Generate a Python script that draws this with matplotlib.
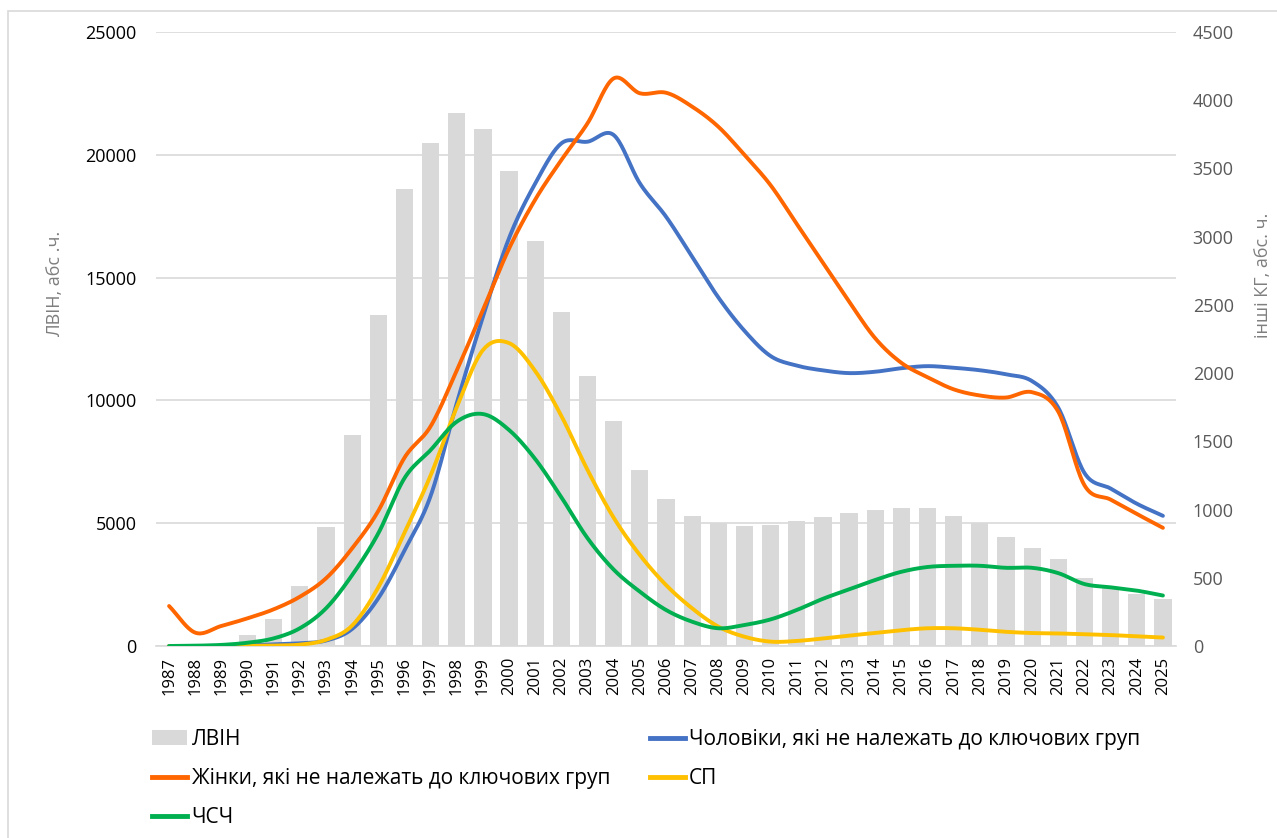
import numpy as np
import matplotlib

matplotlib.use("Agg")
import matplotlib.pyplot as plt
from matplotlib.lines import Line2D
from matplotlib.patches import Patch, Rectangle

plt.rcParams["font.family"] = ["Open Sans", "DejaVu Sans"]

years = list(range(1987, 2026))

# ЛВІН (left axis)
lvin = [0, 0, 60, 440, 1110, 2440, 4830, 8590, 13470, 18620,
        20480, 21700, 21050, 19340, 16480, 13610, 11010, 9170, 7160, 5990,
        5310, 5000, 4880, 4920, 5100, 5250, 5410, 5530, 5620, 5620,
        5310, 5000, 4450, 4000, 3540, 2770, 2380, 2100, 1920]

# other key groups (right axis)
men = [0, 0, 2, 5, 12, 20, 40, 125, 350, 700,
       1100, 1780, 2413, 2990, 3390, 3684, 3696, 3745, 3391, 3147,
       2853, 2555, 2310, 2125, 2055, 2020, 2000, 2010, 2036, 2051,
       2039, 2021, 1991, 1941, 1746, 1268, 1154, 1043, 954]
women = [293, 98, 147, 203, 269, 361, 496, 716, 990, 1380,
         1610, 2020, 2462, 2913, 3272, 3562, 3831, 4160, 4051, 4055,
         3953, 3806, 3599, 3377, 3093, 2808, 2524, 2255, 2075, 1970,
         1881, 1836, 1821, 1860, 1717, 1178, 1073, 968, 866]
sp = [0, 0, 0, 1, 3, 10, 45, 150, 430, 830,
      1250, 1750, 2169, 2220, 2015, 1686, 1290, 940, 667, 447,
      276, 142, 68, 32, 37, 55, 76, 96, 116, 130,
      130, 119, 104, 95, 92, 86, 80, 71, 62]
msm = [0, 2, 8, 24, 56, 130, 276, 520, 826, 1230,
       1436, 1644, 1700, 1583, 1370, 1090, 790, 560, 398, 264,
       178, 130, 154, 195, 264, 346, 415, 484, 544, 579,
       588, 588, 573, 573, 534, 454, 430, 406, 370]

labels = ["ЛВІН",
          "Чоловіки, які не належать до ключових груп",
          "Жінки, які не належать до ключових груп",
          "СП",
          "ЧСЧ"]
colors = ["#D9D9D9", "#4472C4", "#FF6600", "#FFC000", "#00B050"]


def smooth(xs, ys, n=20):
    # Catmull-Rom spline through the yearly points
    x = np.asarray(xs, float)
    y = np.asarray(ys, float)
    px = np.concatenate([[2 * x[0] - x[1]], x, [2 * x[-1] - x[-2]]])
    py = np.concatenate([[2 * y[0] - y[1]], y, [2 * y[-1] - y[-2]]])
    t = np.linspace(0, 1, n, endpoint=False)
    out_x, out_y = [], []
    for i in range(1, len(px) - 2):
        for p, o in ((px, out_x), (py, out_y)):
            p0, p1, p2, p3 = p[i - 1], p[i], p[i + 1], p[i + 2]
            o.extend(0.5 * ((2 * p1) + (-p0 + p2) * t
                            + (2 * p0 - 5 * p1 + 4 * p2 - p3) * t ** 2
                            + (-p0 + 3 * p1 - 3 * p2 + p3) * t ** 3))
    out_x.append(x[-1])
    out_y.append(y[-1])
    return np.array(out_x), np.array(out_y)


fig = plt.figure(figsize=(12.77, 8.38), dpi=100)
ax = fig.add_axes([156 / 1277, 1 - 646 / 838, 1020 / 1277, 614 / 838])
ax2 = ax.twinx()

xpos = np.arange(len(years))
ax.bar(xpos, lvin, width=0.66, color=colors[0], zorder=2)
ax.set_xlim(-0.5, len(years) - 0.5)
ax.set_ylim(0, 25000)
ax.set_yticks(range(0, 25001, 5000))
ax.grid(axis="y", color="#D9D9D9", linewidth=1.2, zorder=0)
ax.set_axisbelow(True)
ax.set_xticks(xpos)
ax.set_xticklabels([str(y) for y in years], rotation=90, fontsize=12, color="#000000")
ax.tick_params(axis="y", length=0, labelsize=13, labelcolor="#000000", pad=14)
ax.tick_params(axis="x", length=0, pad=8)
for s in ("top", "right", "left"):
    ax.spines[s].set_visible(False)
ax.spines["bottom"].set_color("#D9D9D9")
ax.spines["bottom"].set_linewidth(1.2)

for ys, c, z in ((men, colors[1], 3), (women, colors[2], 4), (sp, colors[3], 5), (msm, colors[4], 6)):
    sx, sy = smooth(xpos, ys)
    ax2.plot(sx, sy, color=c, linewidth=2.8, solid_capstyle="round", zorder=z)
ax2.set_ylim(0, 4500)
ax2.set_yticks(range(0, 4501, 500))
ax2.tick_params(axis="y", length=0, labelsize=13, labelcolor="#595959", pad=12)
for s in ax2.spines.values():
    s.set_visible(False)

fig.text(55 / 1277, 1 - 284 / 838, "ЛВІН, абс .ч.", rotation=90, ha="center", va="center",
         fontsize=13, color="#7F7F7F")
fig.text(1263 / 1277, 1 - 275 / 838, "інші КГ, абс. ч.", rotation=90, ha="center", va="center",
         fontsize=13, color="#7F7F7F")

handles = [
    Patch(facecolor=colors[0], edgecolor="none"),
    Line2D([], [], color=colors[2], linewidth=3.5),
    Line2D([], [], color=colors[4], linewidth=3.5),
    Line2D([], [], color=colors[1], linewidth=3.5),
    Line2D([], [], color=colors[3], linewidth=3.5),
]
leg_labels = [labels[0], labels[2], labels[4], labels[1], labels[3]]
fig.legend(handles, leg_labels, ncol=2, loc="upper left", bbox_to_anchor=(152 / 1277, 1 - 729 / 838),
           frameon=False, fontsize=15, handlelength=1.7, handletextpad=0.2, columnspacing=1.9,
           labelspacing=0.87, borderaxespad=0, borderpad=0)

fig.add_artist(Rectangle((8 / 1277, -0.05), 1.2, 1 - 11 / 838 + 0.05, transform=fig.transFigure,
                         fill=False, edgecolor="#D9D9D9", linewidth=1.2))

fig.savefig("out.png", dpi=100)
